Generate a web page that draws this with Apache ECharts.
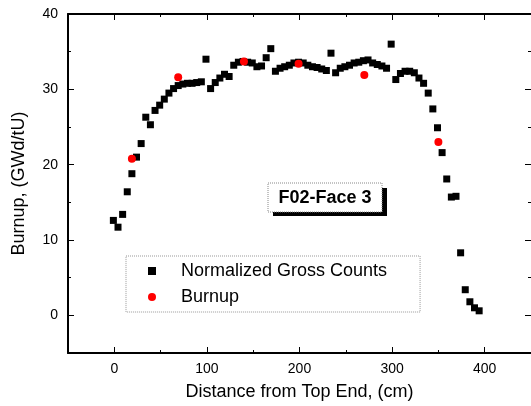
<!DOCTYPE html>
<html>
<head>
<meta charset="utf-8">
<script src="https://cdn.jsdelivr.net/npm/echarts@6/dist/echarts.min.js"></script>
<style>
html,body{margin:0;padding:0;background:#fff;}
#chart{width:531px;height:406px;}
</style>
</head>
<body>
<div id="chart"></div>
<script>
// Normalized Gross Counts
const countX = [-1,4,9,14,19,24,29,34,39,44,49,54,59,64,69,74,79,84,89,94,
  99,104,109,114,119,124,129,134,139,144,149,154,159,164,169,174,179,184,189,194,
  199,204,209,214,219,224,229,234,239,244,249,254,259,264,269,274,279,284,289,294,
  299,304,309,314,319,324,329,334,339,344,349,354,359,364,369,374,379,384,389,394];
const countY = [12.6,11.7,13.4,16.4,18.8,21.0,22.8,26.3,25.3,27.2,
  27.9,28.7,29.5,30.1,30.5,30.7,30.8,30.8,30.9,31.0,
  34.0,30.1,30.9,31.5,32.0,31.7,33.2,33.6,33.7,33.6,
  33.5,33.0,33.1,34.2,35.4,32.4,32.8,33.0,33.2,33.5,
  33.6,33.5,33.2,33.0,32.9,32.7,32.5,34.8,32.2,32.8,
  33.0,33.2,33.5,33.6,33.8,33.9,33.5,33.3,33.1,32.8,
  36.0,31.3,32.1,32.4,32.4,32.2,31.5,30.8,29.5,27.4,
  24.9,21.6,18.1,15.7,15.8,8.3,3.4,1.8,1.0,0.6];
// Burnup
const burnX = [19,69,140,199,270,350];
const burnY = [20.8,31.6,33.7,33.4,31.9,23.0];
// Tick labels
const xMajor = [0,100,200,300,400];
const xMinor = [50,150,250,350,450];
const yMajor = [0,10,20,30,40];
const yMinor = [5,15,25,35];

const seriesNames = ['Normalized Gross Counts','Burnup'];
const boxTitle = 'F02-Face 3';
const xTitle = 'Distance from Top End, (cm)';
const yTitle = 'Burnup, (GWd/tU)';

const FONT = 'Liberation Sans';
const X_MIN = -50, X_MAX = 450, Y_MIN = -5, Y_MAX = 40;

function zip(a, b){ return a.map((v,i)=>[v,b[i]]); }

function tickAxis(position, vals, len, showLine){
  const horiz = (position==='bottom'||position==='top');
  return {
    type:'value', position, min: horiz?X_MIN:Y_MIN, max: horiz?X_MAX:Y_MAX,
    axisLine:{show:showLine, onZero:false, lineStyle:{color:'#000', width:2}},
    axisTick:{show:true, inside:true, length:len, customValues: vals, lineStyle:{color:'#000', width:1}},
    axisLabel:{show:false},
    splitLine:{show:false}
  };
}

const chart = echarts.init(document.getElementById('chart'), null, {renderer:'canvas'});
const mainX = {
  type:'value', position:'bottom', min:X_MIN, max:X_MAX,
  name:xTitle, nameLocation:'middle', nameGap:30,
  nameTextStyle:{fontFamily:FONT, fontSize:18, color:'#000'},
  axisLine:{show:true, onZero:false, lineStyle:{color:'#000', width:2}},
  axisTick:{show:true, inside:true, length:6, customValues:xMajor, lineStyle:{color:'#000', width:1}},
  axisLabel:{show:true, customValues:xMajor, fontFamily:FONT, fontSize:14, color:'#000', margin:9},
  splitLine:{show:false}
};
const mainY = {
  type:'value', position:'left', min:Y_MIN, max:Y_MAX,
  name:yTitle, nameLocation:'middle', nameGap:40, nameRotate:90,
  nameTextStyle:{fontFamily:FONT, fontSize:18, color:'#000'},
  axisLine:{show:true, onZero:false, lineStyle:{color:'#000', width:2}},
  axisTick:{show:true, inside:true, length:6, customValues:yMajor, lineStyle:{color:'#000', width:1}},
  axisLabel:{show:true, customValues:yMajor, fontFamily:FONT, fontSize:14, color:'#000', margin:10},
  splitLine:{show:false}
};

chart.setOption({
  animation:false,
  backgroundColor:'#fff',
  grid:{left:68, top:14, width:468, height:340, containLabel:false},
  xAxis:[mainX, tickAxis('bottom', xMinor, 3, false), tickAxis('top', xMajor, 6, true), tickAxis('top', xMinor, 3, false)],
  yAxis:[mainY, tickAxis('left', yMinor, 3, false), tickAxis('right', yMajor, 6, false), tickAxis('right', yMinor, 3, false)],
  legend:{
    orient:'vertical', left:126, top:256,
    padding:[6,33,6,22], itemGap:8, itemWidth:8, itemHeight:8,
    borderColor:'#999', borderWidth:1, borderType:'dotted',
    textStyle:{fontFamily:FONT, fontSize:18, color:'#000', padding:[0,0,0,20]},
    data:[{name:seriesNames[0], icon:'rect'},{name:seriesNames[1], icon:'circle'}]
  },
  graphic:[
    {type:'rect', shape:{x:273, y:188, width:114, height:28}, style:{fill:'#000'}, z:10},
    {type:'rect', shape:{x:268, y:183, width:114, height:29}, style:{fill:'#fff', stroke:'#888', lineWidth:1, lineDash:[1,1]}, z:11},
    {type:'text', x:325, y:198, style:{text:boxTitle, font:'bold 18px "Liberation Sans"', fill:'#000', textAlign:'center', textVerticalAlign:'middle'}, z:12}
  ],
  series:[
    {name:seriesNames[0], type:'scatter', xAxisIndex:0, yAxisIndex:0, symbol:'rect', symbolSize:7,
     itemStyle:{color:'#000', opacity:1}, data:zip(countX, countY)},
    {name:seriesNames[1], type:'scatter', xAxisIndex:0, yAxisIndex:0, symbol:'circle', symbolSize:8,
     itemStyle:{color:'#ff0000', opacity:1}, data:zip(burnX, burnY)}
  ]
});
</script>
</body>
</html>
